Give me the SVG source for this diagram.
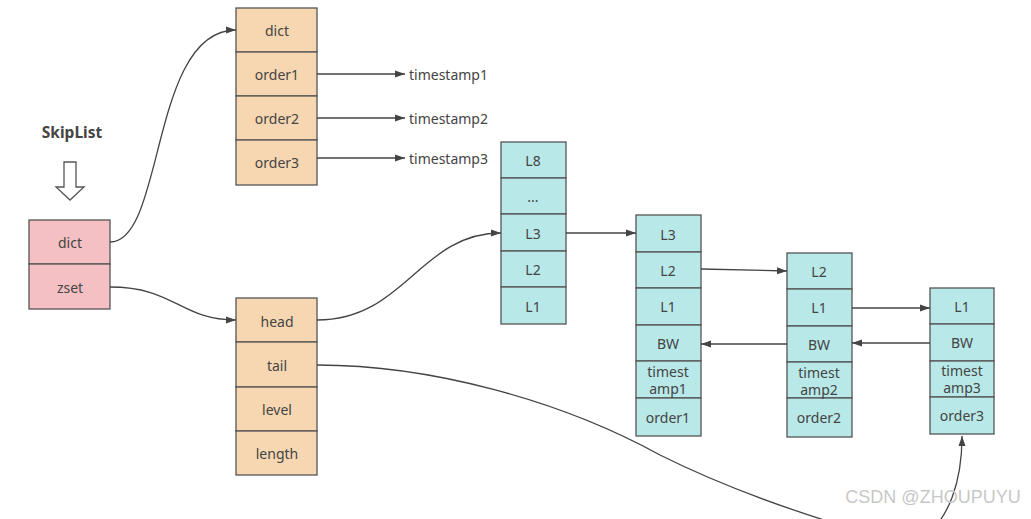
<svg xmlns="http://www.w3.org/2000/svg" width="1031" height="519" viewBox="0 0 1031 519">
<style>
text{font-family:"Noto Sans","Open Sans","Liberation Sans",sans-serif;font-size:14px;fill:#444;text-anchor:middle;dominant-baseline:central}
.pk{fill:#f4c0c3;stroke:#555;stroke-width:1.3}
.or{fill:#f6d7b2;stroke:#555;stroke-width:1.3}
.tl{fill:#b9e8e8;stroke:#555;stroke-width:1.3}
.ln{fill:none;stroke:#444;stroke-width:1.3}
.ts{text-anchor:start}
</style>
<defs>
<marker id="ah" viewBox="0 0 10 10" refX="10" refY="5" markerWidth="10" markerHeight="10" markerUnits="userSpaceOnUse" orient="auto">
<path d="M0,1.5 L10,5 L0,8.5 z" fill="#444"/>
</marker>
</defs>
<rect width="1031" height="519" fill="#fff"/>

<g id="title">
<text x="72" y="132" style="font-weight:bold;font-size:15.5px">SkipList</text>
<path d="M64,162 H76 V187 H84 L70,200 L56,187 H64 Z" fill="#fff" stroke="#555" stroke-width="1.3"/>
</g>

<g id="skiplist">
<rect class="pk" x="29" y="220" width="81" height="44"/>
<rect class="pk" x="29" y="264" width="81" height="45"/>
<text x="70" y="242">dict</text>
<text x="70" y="287">zset</text>
</g>

<g id="dict">
<rect class="or" x="236" y="8" width="81" height="44"/>
<rect class="or" x="236" y="52" width="81" height="44"/>
<rect class="or" x="236" y="96" width="81" height="44"/>
<rect class="or" x="236" y="140" width="81" height="45"/>
<text x="277" y="30">dict</text>
<text x="277" y="74">order1</text>
<text x="277" y="118">order2</text>
<text x="277" y="162">order3</text>
</g>

<g id="timestamps">
<text class="ts" x="409" y="74">timestamp1</text>
<text class="ts" x="409" y="118">timestamp2</text>
<text class="ts" x="409" y="158">timestamp3</text>
</g>

<g id="zset">
<rect class="or" x="236" y="298" width="81" height="44"/>
<rect class="or" x="236" y="342" width="81" height="45"/>
<rect class="or" x="236" y="387" width="81" height="44"/>
<rect class="or" x="236" y="431" width="81" height="44"/>
<text x="277" y="321">head</text>
<text x="277" y="365">tail</text>
<text x="277" y="409">level</text>
<text x="277" y="453">length</text>
</g>

<g id="header">
<rect class="tl" x="501" y="142" width="65" height="36"/>
<rect class="tl" x="501" y="178" width="65" height="36"/>
<rect class="tl" x="501" y="214" width="65" height="37"/>
<rect class="tl" x="501" y="251" width="65" height="36"/>
<rect class="tl" x="501" y="287" width="65" height="37"/>
<text x="533" y="160">L8</text>
<text x="533" y="196">...</text>
<text x="533" y="233">L3</text>
<text x="533" y="269">L2</text>
<text x="533" y="306">L1</text>
</g>

<g id="node1">
<rect class="tl" x="636" y="215" width="65" height="37"/>
<rect class="tl" x="636" y="252" width="65" height="36"/>
<rect class="tl" x="636" y="288" width="65" height="37"/>
<rect class="tl" x="636" y="325" width="65" height="36"/>
<rect class="tl" x="636" y="361" width="65" height="37"/>
<rect class="tl" x="636" y="398" width="65" height="38"/>
<text x="668" y="234">L3</text>
<text x="668" y="270">L2</text>
<text x="668" y="306">L1</text>
<text x="668" y="343">BW</text>
<text x="668" y="371">timest</text>
<text x="668" y="388">amp1</text>
<text x="668" y="417">order1</text>
</g>

<g id="node2">
<rect class="tl" x="787" y="253" width="65" height="36"/>
<rect class="tl" x="787" y="289" width="65" height="37"/>
<rect class="tl" x="787" y="326" width="65" height="36"/>
<rect class="tl" x="787" y="362" width="65" height="36"/>
<rect class="tl" x="787" y="398" width="65" height="39"/>
<text x="819" y="271">L2</text>
<text x="819" y="307">L1</text>
<text x="819" y="344">BW</text>
<text x="819" y="372">timest</text>
<text x="819" y="389">amp2</text>
<text x="819" y="417">order2</text>
</g>

<g id="node3">
<rect class="tl" x="930" y="288" width="64" height="36"/>
<rect class="tl" x="930" y="324" width="64" height="37"/>
<rect class="tl" x="930" y="361" width="64" height="36"/>
<rect class="tl" x="930" y="397" width="64" height="37"/>
<text x="962" y="306">L1</text>
<text x="962" y="342">BW</text>
<text x="962" y="370">timest</text>
<text x="962" y="387">amp3</text>
<text x="962" y="415">order3</text>
</g>

<g id="connectors">
<path class="ln" d="M110,242 C165,242 150,30 236,30" marker-end="url(#ah)"/>
<path class="ln" d="M110,287 C175,287 180,320 236,320" marker-end="url(#ah)"/>
<path class="ln" d="M317,74 H405" marker-end="url(#ah)"/>
<path class="ln" d="M317,118 H405" marker-end="url(#ah)"/>
<path class="ln" d="M317,158 H405" marker-end="url(#ah)"/>
<path class="ln" d="M317,320 C405,320 420,233 501,233" marker-end="url(#ah)"/>
<path class="ln" d="M566,233 H636" marker-end="url(#ah)"/>
<path class="ln" d="M701,269 L787,271" marker-end="url(#ah)"/>
<path class="ln" d="M852,308 H930" marker-end="url(#ah)"/>
<path class="ln" d="M930,343 H852" marker-end="url(#ah)"/>
<path class="ln" d="M787,344 H701" marker-end="url(#ah)"/>
<path class="ln" d="M317,365 C430,365 560,400 660,455 C720,485 790,510 850,528 M920,540 C950,520 962,480 962,436" marker-end="url(#ah)"/>
</g>

<text x="933" y="497" style="font-family:'Liberation Sans',sans-serif;font-size:18px;fill:#c8c8c8">CSDN @ZHOUPUYU</text>
</svg>
